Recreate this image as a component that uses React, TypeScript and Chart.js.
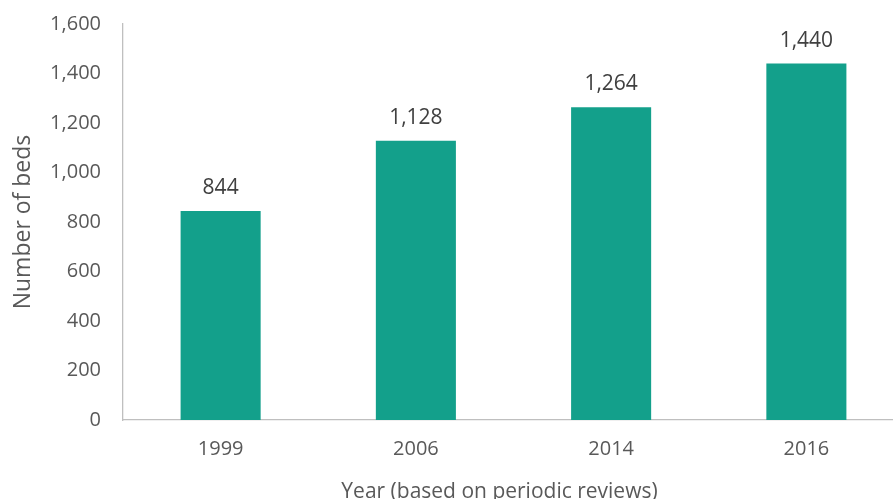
import React, { useEffect, useRef } from "react";
import { Chart, registerables } from "chart.js";

Chart.register(...registerables);

const categories = ["1999", "2006", "2014", "2016"];
const beds = [844, 1128, 1264, 1440];
const yTicks = [0, 200, 400, 600, 800, 1000, 1200, 1400, 1600];
const xTitle = "Year (based on periodic reviews)";
const yTitle = "Number of beds";

const FONT = "'Open Sans', 'Liberation Sans', sans-serif";

const labelPlugin = {
  id: "barLabels",
  afterDatasetsDraw(chart: any) {
    const ctx = chart.ctx;
    const meta = chart.getDatasetMeta(0);
    ctx.save();
    ctx.fillStyle = "#404040";
    ctx.font = `21px ${FONT}`;
    ctx.textAlign = "center";
    ctx.textBaseline = "alphabetic";
    meta.data.forEach((bar: any, i: number) => {
      ctx.fillText(beds[i].toLocaleString("en-US"), bar.x, bar.y - 17);
    });
    // x axis title
    const area = chart.chartArea;
    ctx.fillStyle = "#595959";
    ctx.font = `21px ${FONT}`;
    ctx.fillText(xTitle, (area.left + area.right) / 2 - 14, area.bottom + 78);
    ctx.restore();
  },
};

export default function App() {
  const ref = useRef<HTMLCanvasElement | null>(null);
  useEffect(() => {
    if (!ref.current) return;
    const chart = new Chart(ref.current, {
      type: "bar",
      data: {
        labels: categories,
        datasets: [
          {
            data: beds,
            backgroundColor: "#13A08B",
            borderWidth: 0,
            categoryPercentage: 1,
            barPercentage: 0.41,
          },
        ],
      },
      plugins: [labelPlugin],
      options: {
        responsive: false,
        animation: false,
        devicePixelRatio: 1,
        layout: { padding: { top: 24, right: 0, left: 0, bottom: 0 } },
        plugins: { legend: { display: false }, tooltip: { enabled: false } },
        scales: {
          x: {
            grid: { display: false, drawTicks: false, tickLength: 0 },
            border: { display: true, color: "#BFBFBF", width: 1.3 },
            ticks: { color: "#595959", font: { family: FONT, size: 20 }, padding: 17 },
            afterFit(scale: any) {
              scale.height = 86;
            },
          },
          y: {
            min: 0,
            max: 1600,
            afterBuildTicks(scale: any) {
              scale.ticks = yTicks.map((v) => ({ value: v }));
            },
            grid: { display: false, drawTicks: false, tickLength: 0 },
            border: { display: true, color: "#BFBFBF", width: 1.3 },
            ticks: {
              color: "#595959",
              font: { family: FONT, size: 20 },
              padding: 22,
              callback: (v: any) => Number(v).toLocaleString("en-US"),
            },
            title: {
              display: true,
              text: yTitle,
              color: "#595959",
              font: { family: FONT, size: 23 },
              padding: { top: 10, bottom: 0 },
            },
            afterFit(scale: any) {
              scale.width = 123;
              scale.paddingTop = 0;
              scale.paddingBottom = 0;
            },
          },
        },
      },
    });
    return () => chart.destroy();
  }, []);
  return (
    <div style={{ position: "fixed", left: 0, top: 0, width: 893, height: 499, overflow: "hidden", background: "#fff" }}>
      <canvas ref={ref} width={904} height={506} style={{ display: "block" }} />
    </div>
  );
}
